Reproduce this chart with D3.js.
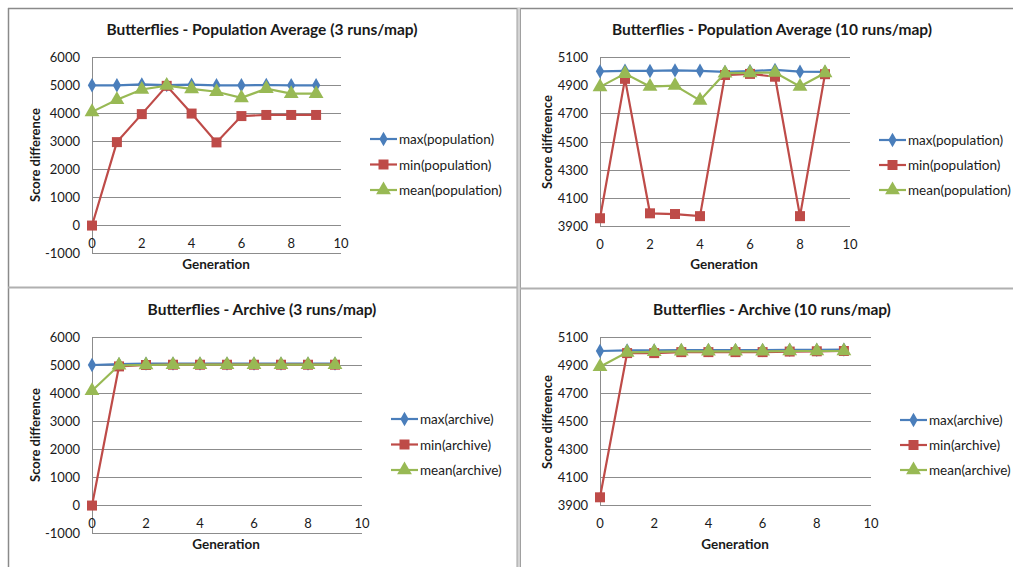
<!DOCTYPE html>
<html>
<head>
<meta charset="utf-8">
<script src="https://cdn.jsdelivr.net/npm/d3@7"></script>
<style>
  body { margin: 0; background: #fff; }
  svg { display: block; font-family: Lato, "Open Sans", sans-serif; }
</style>
</head>
<body>
<svg id="chart" width="1013" height="567"></svg>
<script>
// Data
const generations = [0, 1, 2, 3, 4, 5, 6, 7, 8, 9];

const popMax3  = [4990, 4990, 5020, 5000, 5010, 4990, 4990, 5000, 4990, 4990];
const popMin3  = [-20, 2960, 3960, 4970, 3980, 2950, 3890, 3930, 3930, 3930];
const popMean3 = [4040, 4470, 4840, 4980, 4860, 4760, 4540, 4870, 4690, 4690];

const popMax10  = [4998, 5002, 5001, 5005, 5002, 4994, 5000, 5008, 4996, 4994];
const popMin10  = [3955, 4945, 3990, 3985, 3970, 4972, 4980, 4960, 3970, 4978];
const popMean10 = [4888, 4982, 4890, 4897, 4792, 4985, 4987, 4990, 4890, 4987];

const arcMax3  = [5000, 5030, 5050, 5050, 5050, 5050, 5050, 5050, 5050, 5050];
const arcMin3  = [-20, 4950, 5000, 5010, 5010, 5010, 5010, 5010, 5010, 5010];
const arcMean3 = [4080, 4990, 5000, 5010, 5010, 5010, 5010, 5010, 5010, 5010];

const arcMax10  = [5000, 5004, 5004, 5006, 5006, 5006, 5006, 5008, 5008, 5010];
const arcMin10  = [3955, 4985, 4985, 4992, 4992, 4992, 4992, 4996, 4998, 5000];
const arcMean10 = [4888, 4990, 4994, 4998, 4998, 4998, 4998, 5000, 5000, 5000];

const ticks3  = [-1000, 0, 1000, 2000, 3000, 4000, 5000, 6000];
const ticks10 = [3900, 4100, 4300, 4500, 4700, 4900, 5100];
const xTicks  = [0, 2, 4, 6, 8, 10];

const popLabels = ["max(population)", "min(population)", "mean(population)"];
const arcLabels = ["max(archive)", "min(archive)", "mean(archive)"];

const colors  = ["#4a7ebb", "#be4b48", "#98b954"];
const symbols = [d3.symbolDiamond, d3.symbolSquare, d3.symbolTriangle];
const symSize = [60, 100, 95];

const svg = d3.select("#chart");

// Panel frames (Excel cell-like background)
svg.append("rect").attr("x", 0).attr("y", 0).attr("width", 1013).attr("height", 567).attr("fill", "#fff");
svg.append("line").attr("x1", 8).attr("x2", 1013).attr("y1", 8.5).attr("y2", 8.5).attr("stroke", "#8a8a8a").attr("stroke-width", 1.5);
svg.append("line").attr("x1", 8.5).attr("x2", 8.5).attr("y1", 8).attr("y2", 567).attr("stroke", "#8a8a8a").attr("stroke-width", 1.5);
svg.append("rect").attr("x", 517).attr("y", 8).attr("width", 3.5).attr("height", 559).attr("fill", "#d4d4d4");
svg.append("line").attr("x1", 517).attr("x2", 517).attr("y1", 8).attr("y2", 567).attr("stroke", "#a0a0a0");
svg.append("line").attr("x1", 520.5).attr("x2", 520.5).attr("y1", 8).attr("y2", 567).attr("stroke", "#a0a0a0");
svg.append("line").attr("x1", 8).attr("x2", 517).attr("y1", 287.5).attr("y2", 287.5).attr("stroke", "#b0b0b0").attr("stroke-width", 2);
svg.append("line").attr("x1", 520).attr("x2", 1013).attr("y1", 288.5).attr("y2", 288.5).attr("stroke", "#b0b0b0").attr("stroke-width", 2);

const panels = [
  { title: "Butterflies - Population Average (3 runs/map)", series: [popMax3, popMin3, popMean3], labels: popLabels,
    yDomain: [-1000, 6000], yTicks: ticks3, px: [92, 341], py: [253, 57],
    titleAt: [262, 29], xLabAt: [216, 264], yLabAt: [35, 155], legend: [370, 139, 25.5] },
  { title: "Butterflies - Population Average (10 runs/map)", series: [popMax10, popMin10, popMean10], labels: popLabels,
    yDomain: [3900, 5100], yTicks: ticks10, px: [600, 850], py: [226, 57],
    titleAt: [772, 29], xLabAt: [724, 264], yLabAt: [547, 142], legend: [879, 140, 25] },
  { title: "Butterflies - Archive (3 runs/map)", series: [arcMax3, arcMin3, arcMean3], labels: arcLabels,
    yDomain: [-1000, 6000], yTicks: ticks3, px: [92, 362], py: [533, 337],
    titleAt: [262, 309], xLabAt: [226, 544], yLabAt: [35, 435], legend: [391, 419, 25.5] },
  { title: "Butterflies - Archive (10 runs/map)", series: [arcMax10, arcMin10, arcMean10], labels: arcLabels,
    yDomain: [3900, 5100], yTicks: ticks10, px: [600, 871], py: [505, 337],
    titleAt: [772, 309], xLabAt: [735, 544], yLabAt: [547, 422], legend: [900, 420, 25] }
];

panels.forEach(function(p) {
  const g = svg.append("g");
  const x = d3.scaleLinear().domain([0, 10]).range(p.px);
  const y = d3.scaleLinear().domain(p.yDomain).range(p.py);
  const zeroY = y(Math.max(0, p.yDomain[0]));

  // gridlines
  g.selectAll(".grid").data(p.yTicks).enter().append("line")
    .attr("x1", p.px[0]).attr("x2", p.px[1])
    .attr("y1", d => Math.round(y(d)) + 0.5).attr("y2", d => Math.round(y(d)) + 0.5)
    .attr("stroke", "#8c8c8c").attr("stroke-width", 1);

  // y axis line
  g.append("line").attr("x1", p.px[0] + 0.5).attr("x2", p.px[0] + 0.5)
    .attr("y1", p.py[0]).attr("y2", p.py[1]).attr("stroke", "#8c8c8c");

  // y tick labels
  g.selectAll(".ylab").data(p.yTicks).enter().append("text")
    .attr("x", p.px[0] - 12).attr("y", d => y(d))
    .attr("text-anchor", "end").attr("dominant-baseline", "central")
    .attr("font-size", 13).attr("fill", "#1a1a1a")
    .text(d => d);

  // x tick labels (just below the zero line)
  g.selectAll(".xlab").data(xTicks).enter().append("text")
    .attr("x", d => x(d)).attr("y", zeroY + 17.5)
    .attr("text-anchor", "middle").attr("dominant-baseline", "central")
    .attr("font-size", 13).attr("fill", "#1a1a1a")
    .text(d => d);

  // titles
  g.append("text").attr("x", p.titleAt[0]).attr("y", p.titleAt[1])
    .attr("text-anchor", "middle").attr("dominant-baseline", "central")
    .attr("font-size", 15.5).attr("font-weight", "bold").attr("fill", "#1a1a1a")
    .text(p.title);
  g.append("text").attr("x", p.xLabAt[0]).attr("y", p.xLabAt[1])
    .attr("text-anchor", "middle").attr("dominant-baseline", "central")
    .attr("font-size", 13.5).attr("font-weight", "bold").attr("fill", "#1a1a1a")
    .text("Generation");
  g.append("text").attr("transform", `translate(${p.yLabAt[0]},${p.yLabAt[1]}) rotate(-90)`)
    .attr("text-anchor", "middle").attr("dominant-baseline", "central")
    .attr("font-size", 13).attr("font-weight", "bold").attr("fill", "#1a1a1a")
    .text("Score difference");

  // series
  const line = d3.line().x((d, i) => x(generations[i])).y(d => y(d));
  p.series.forEach(function(vals, s) {
    g.append("path").datum(vals)
      .attr("d", line).attr("fill", "none")
      .attr("stroke", colors[s]).attr("stroke-width", 2.2);
    g.selectAll(".m" + s).data(vals).enter().append("path")
      .attr("d", d3.symbol().type(symbols[s]).size(symSize[s]))
      .attr("transform", (d, i) => `translate(${x(generations[i])},${y(d)})`)
      .attr("fill", colors[s]);
  });

  // legend
  p.labels.forEach(function(lab, s) {
    const ly = p.legend[1] + s * p.legend[2];
    const lx = p.legend[0];
    g.append("line").attr("x1", lx).attr("x2", lx + 27).attr("y1", ly).attr("y2", ly)
      .attr("stroke", colors[s]).attr("stroke-width", 2.2);
    g.append("path").attr("d", d3.symbol().type(symbols[s]).size(symSize[s]))
      .attr("transform", `translate(${lx + 13.5},${ly})`).attr("fill", colors[s]);
    g.append("text").attr("x", lx + 29).attr("y", ly)
      .attr("dominant-baseline", "central").attr("font-size", 13.5).attr("fill", "#1a1a1a")
      .text(lab);
  });
});
</script>
</body>
</html>
